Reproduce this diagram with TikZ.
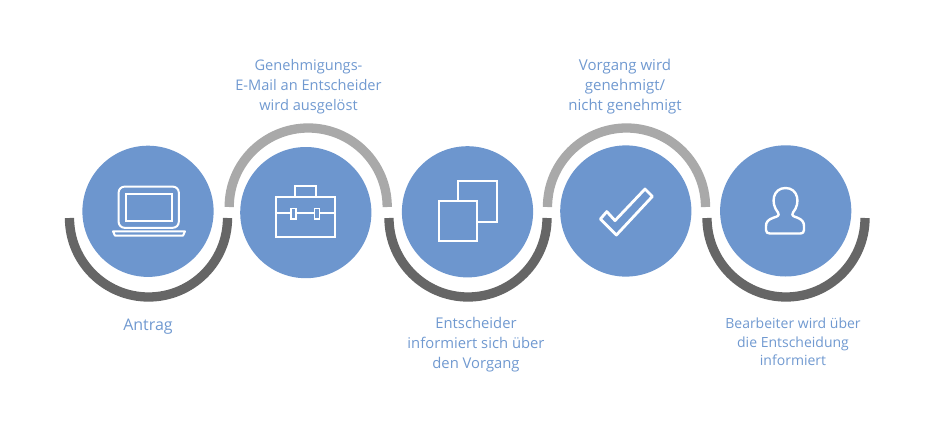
\documentclass[tikz,border=0pt]{standalone}
\usepackage{fontspec}
\setmainfont{Open Sans}
\definecolor{discblue}{HTML}{6D96CE}
\definecolor{textblue}{HTML}{7099D0}
\definecolor{arcdark}{HTML}{666666}
\definecolor{arclight}{HTML}{A9A9A9}
\tikzset{
    lowarc/.style={draw=arcdark, line width=9.3pt},
    higharc/.style={draw=arclight, line width=9.3pt},
    icon/.style={draw=white, line width=2pt},
    caption/.style={text=textblue, align=center, inner sep=0pt, font=\fontsize{15}{20}\selectfont},
}
\begin{document}
\begin{tikzpicture}[x=1pt,y=-1pt]
    \useasboundingbox (0,0) rectangle (934,434);

    \draw[lowarc] (69.5,218) arc (180:360:79pt);
    \draw[higharc] (229.2,207) arc (180:0:79pt);
    \draw[lowarc] (389,218) arc (180:360:79pt);
    \draw[higharc] (547.5,207) arc (180:0:79pt);
    \draw[lowarc] (707,218) arc (180:360:79pt);

    \fill[discblue] (148,211.3) circle (65.6pt);
    \fill[discblue] (305.8,212.6) circle (65.6pt);
    \fill[discblue] (467.5,211.8) circle (65.6pt);
    \fill[discblue] (625.8,211) circle (65.6pt);
    \fill[discblue] (785.7,210.9) circle (65.6pt);

    % laptop
    \draw[icon, rounded corners=6pt] (118.6,186.6) rectangle (178.8,227.8);
    \draw[icon] (125.6,193.6) rectangle (171.6,220.8);
    \draw[icon, line join=round] (113,231.4) -- (185,231.4) -- (183,235.6) -- (115,235.6) -- cycle;

    % briefcase
    \draw[icon] (276,197) rectangle (335.4,237);
    \draw[icon] (294.6,197) -- (294.6,185.8) -- (315.8,185.8) -- (315.8,197);
    \draw[icon] (276,213.4) -- (335.4,213.4);
    \draw[icon, fill=discblue, line width=1.5pt] (291,208.6) rectangle (295.8,219);
    \draw[icon, fill=discblue, line width=1.5pt] (314.6,208.6) rectangle (319.4,219);

    % two sheets
    \draw[icon] (458,181.4) rectangle (497,221.6);
    \draw[icon, fill=discblue] (438.6,200.6) rectangle (477.4,240.6);

    % check mark
    \draw[icon, line width=2.8pt, line join=round] (600.4,219) -- (606.8,211.6) -- (615,220.6)
        -- (645,189) -- (652.4,196.4) -- (616.4,235) -- cycle;

    % person
    \draw[icon, line width=2.4pt, line join=round]
        (778,212.5) .. controls (770,203) and (773,188) .. (785.5,188)
        .. controls (798,188) and (801,203) .. (793,212.5)
        .. controls (791,216) and (794,216.5) .. (797,217.5)
        .. controls (802,219.5) and (804,222) .. (804,226)
        -- (804,230) .. controls (804,232.5) and (802.5,233.5) .. (800.5,233.5)
        -- (770,233.5) .. controls (767.5,233.5) and (766,232.5) .. (766,230)
        -- (766,226) .. controls (766,222) and (768,219.5) .. (774,217.5)
        .. controls (777,216.5) and (780,216) .. (778,212.5) -- cycle;

    \node[caption, font=\fontsize{16}{20}\selectfont] (antrag) at (148,327) {Antrag};
    \node[caption, font=\fontsize{14.6}{20}\selectfont] (mail) at (308.5,87) {Genehmigungs-\\E-Mail an Entscheider\\wird ausgelöst};
    \node[caption, font=\fontsize{14.8}{20}\selectfont] (info) at (476,345) {Entscheider\\informiert sich über\\den Vorgang};
    \node[caption] (vorgang) at (625,87) {Vorgang wird\\genehmigt/\\nicht genehmigt};
    \node[caption, font=\fontsize{14}{18.5}\selectfont] (bearbeiter) at (793,341.8) {Bearbeiter wird über\\die Entscheidung\\informiert};
\end{tikzpicture}
\end{document}
